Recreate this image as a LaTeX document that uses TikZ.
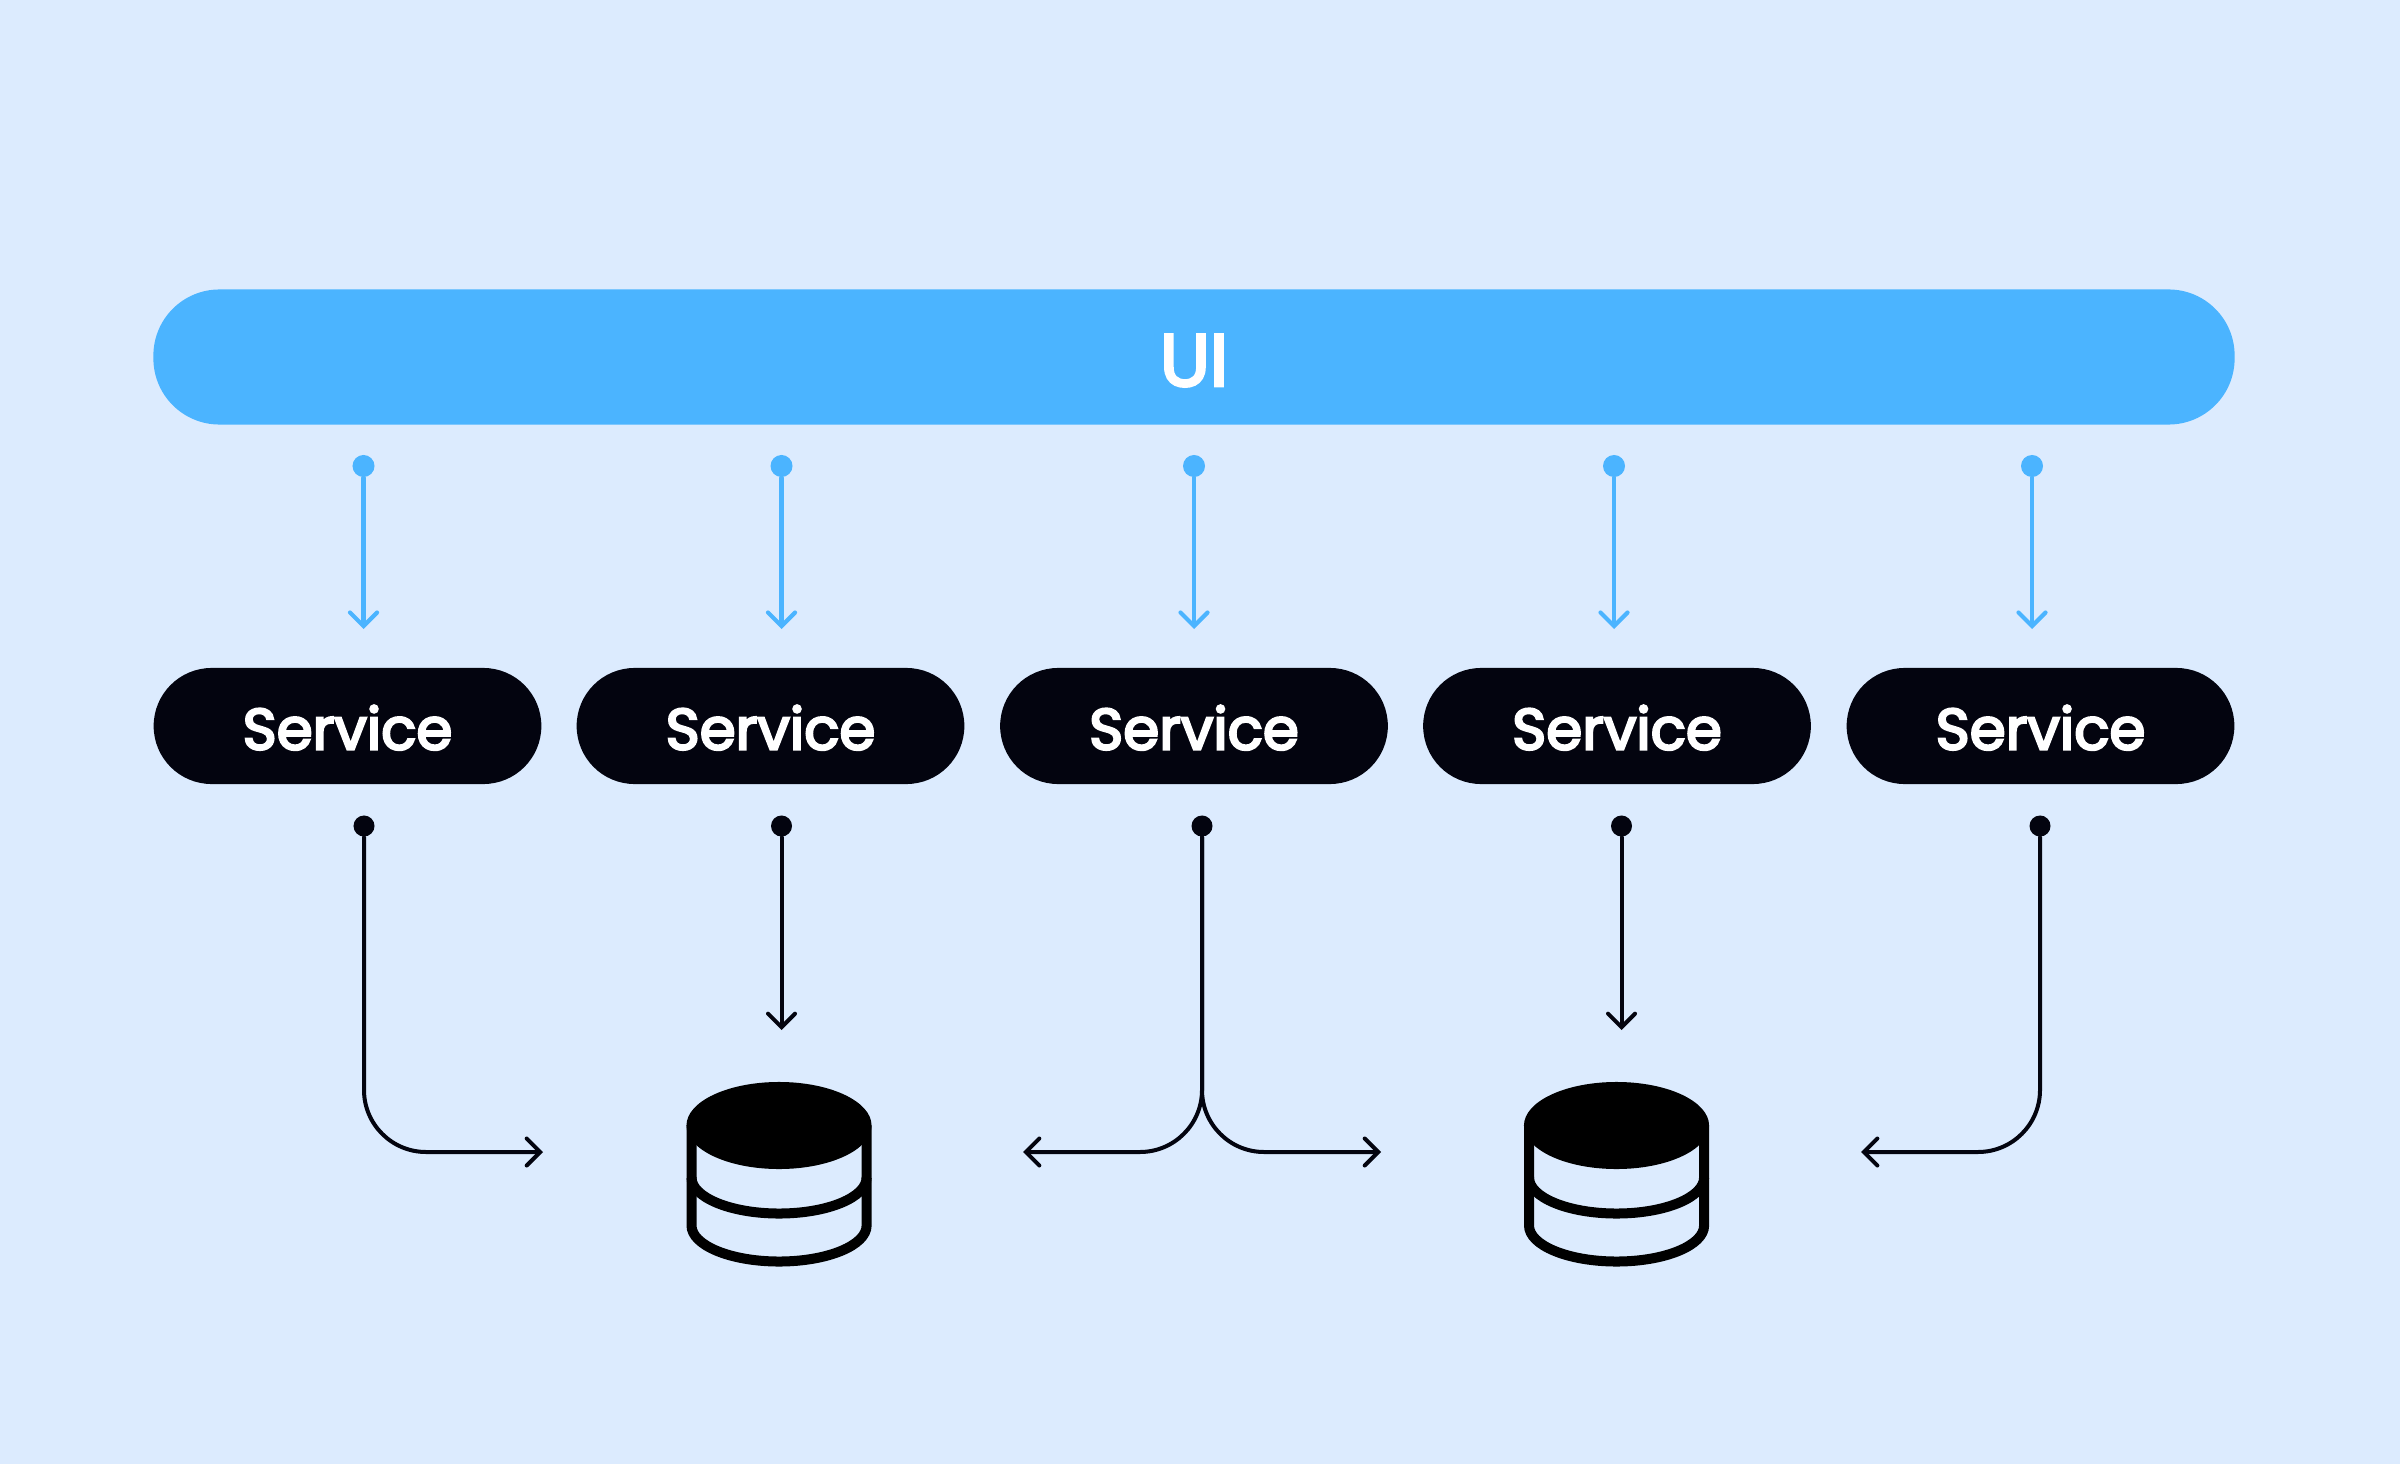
\documentclass[tikz,border=0pt]{standalone}
\usepackage{fontspec}
\setmainfont{Poppins}
\newfontfamily\labelfont[FakeBold=4]{Poppins}
\usetikzlibrary{arrows.meta}

\definecolor{pagebg}{HTML}{DCEBFE}
\definecolor{uiblue}{HTML}{4BB4FF}
\definecolor{inkdark}{HTML}{03040F}

\tikzset{
    service/.style={fill=inkdark, text=white, rounded corners=0.58cm, minimum width=3.875cm, minimum height=1.16cm, inner sep=0pt, text height=0.47cm, text depth=0cm, font=\fontsize{16.5}{18}\selectfont\labelfont},
    bluedot/.style={circle, fill=uiblue, minimum size=0.22cm, inner sep=0pt},
    darkdot/.style={circle, fill=inkdark, minimum size=0.21cm, inner sep=0pt},
    bluearrow/.style={draw=uiblue, line width=0.042cm, line cap=round, -{Straight Barb[length=0.135cm, width=0.27cm, line cap=round]}},
    darkarrow/.style={draw=inkdark, line width=0.04cm, line cap=round, rounded corners=0.62cm, -{Straight Barb[length=0.135cm, width=0.27cm, line cap=round]}},
    dbicon/.pic={
        \fill[black] (0,0) ellipse[x radius=0.925cm, y radius=0.435cm];
        \draw[black, line width=0.1cm] (-87.5,0) -- (-87.5,100) arc[start angle=180, end angle=360, x radius=0.875cm, y radius=0.36cm] -- (87.5,0);
        \draw[black, line width=0.1cm] (-87.5,52) arc[start angle=180, end angle=360, x radius=0.875cm, y radius=0.36cm];
    }
}

\begin{document}
\begin{tikzpicture}[x=0.01cm, y=-0.01cm]

    % the background
    \fill[pagebg] (0,0) rectangle (2400,1464);

    % the UI bar
    \node[fill=uiblue, text=white, rounded corners=0.66cm, minimum width=20.8cm, minimum height=1.35cm, inner sep=0pt, text height=0.58cm, text depth=0cm, font=\fontsize{21}{24}\selectfont\labelfont] (ui) at (1194,357) {UI};

    % these are the services
    \node[service] (s1) at (347.5,726) {Service};
    \node[service] (s2) at (770.5,726) {Service};
    \node[service] (s3) at (1194,726) {Service};
    \node[service] (s4) at (1617,726) {Service};
    \node[service] (s5) at (2040.5,726) {Service};

    % the dots under the UI bar
    \node[bluedot] (u1) at (363.5,466) {};
    \node[bluedot] (u2) at (781.5,466) {};
    \node[bluedot] (u3) at (1194,466) {};
    \node[bluedot] (u4) at (1614,466) {};
    \node[bluedot] (u5) at (2032,466) {};

    % the arrow ends above the services
    \coordinate (a1) at (363.5,629);
    \coordinate (a2) at (781.5,629);
    \coordinate (a3) at (1194,629);
    \coordinate (a4) at (1614,629);
    \coordinate (a5) at (2032,629);

    \draw[bluearrow] (u1) -- (a1);
    \draw[bluearrow] (u2) -- (a2);
    \draw[bluearrow] (u3) -- (a3);
    \draw[bluearrow] (u4) -- (a4);
    \draw[bluearrow] (u5) -- (a5);

    % the dots under the services
    \node[darkdot] (d1) at (364,826) {};
    \node[darkdot] (d2) at (781.5,826) {};
    \node[darkdot] (d3) at (1202,826) {};
    \node[darkdot] (d4) at (1621.5,826) {};
    \node[darkdot] (d5) at (2040,826) {};

    % the arrow ends around the databases
    \coordinate (b1) at (543,1152);
    \coordinate (b2) at (781.5,1030);
    \coordinate (b3l) at (1023,1152);
    \coordinate (b3r) at (1381,1152);
    \coordinate (b4) at (1621.5,1030);
    \coordinate (b5) at (1861,1152);

    \draw[darkarrow] (d1) |- (b1);
    \draw[darkarrow] (d2) -- (b2);
    \draw[darkarrow] (d3) |- (b3l);
    \draw[darkarrow] (d3) |- (b3r);
    \draw[darkarrow] (d4) -- (b4);
    \draw[darkarrow] (d5) |- (b5);

    % the two databases
    \pic at (779,1125.5) {dbicon};
    \pic at (1616.5,1125.5) {dbicon};

\end{tikzpicture}
\end{document}
